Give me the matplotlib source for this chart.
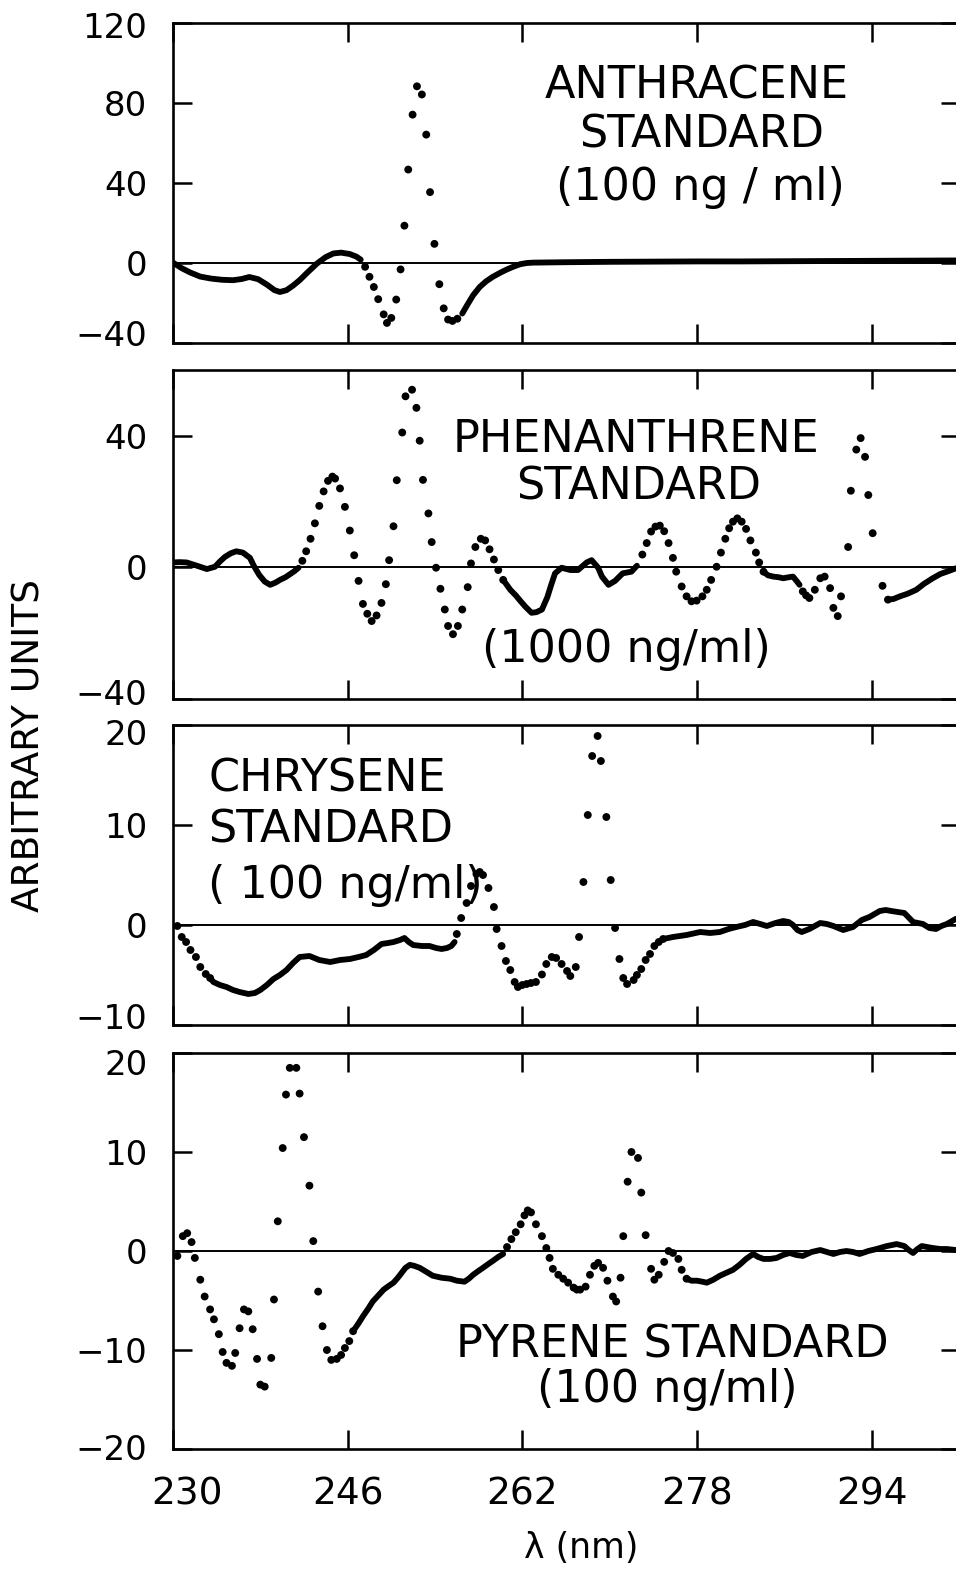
import numpy as np
import matplotlib.pyplot as plt
import matplotlib.transforms as mtransforms

plt.rcParams['font.family'] = ['DejaVu Sans']

# ---- anthracene (100 ng/ml) ----
anth_line1_x = [230.0, 230.8, 231.6, 232.5, 233.5, 234.5, 235.5, 236.3, 237.0, 237.8, 238.6, 239.3,
                239.8, 240.4, 241.0, 241.6, 242.4, 243.2, 244.0, 244.7, 245.4, 246.2, 246.8, 247.2]
anth_line1_y = [0.0, -2.8, -5.0, -7.0, -8.0, -8.6, -8.8, -8.2, -7.2, -8.3, -11.0, -13.8,
                -14.7, -13.8, -11.5, -8.8, -4.5, -0.4, 2.8, 4.6, 5.0, 4.3, 3.0, 1.5]
anth_dots_x = [247.6, 248.0, 248.4, 248.8, 249.3, 249.6, 250.0, 250.45, 250.85, 251.2, 251.55,
               251.95, 252.35, 252.8, 253.2, 253.55, 253.95, 254.4, 254.8, 255.2, 255.6, 256.05]
anth_dots_y = [-2.1, -7.1, -12.2, -18.3, -25.9, -30.2, -27.7, -18.5, -3.4, 18.5, 46.6,
               74.1, 88.3, 84.2, 64.1, 35.3, 9.4, -10.8, -22.9, -28.5, -29.2, -28.1]
anth_line2_x = [256.5, 257.0, 257.5, 258.1, 258.7, 259.3, 260.0, 260.6, 261.2, 261.8, 262.4, 263.0,
                266.0, 270.0, 274.0, 278.0, 282.0, 286.0, 290.0, 294.0, 298.0, 302.1]
anth_line2_y = [-25.5, -20.8, -16.3, -12.2, -9.3, -7.1, -5.0, -3.4, -2.0, -0.8, -0.2, 0.0,
                0.2, 0.4, 0.5, 0.6, 0.6, 0.7, 0.8, 0.9, 1.0, 1.1]

# ---- phenanthrene (1000 ng/ml) ----
phen_line1_x = [230.0, 230.6, 231.25, 232.2, 233.1, 233.85, 234.3, 234.76, 235.3, 235.8, 236.4, 237.05,
                237.4, 237.9, 238.4, 238.9, 239.4, 239.8, 240.3, 240.7, 241.1, 241.5]
phen_line1_y = [1.5, 1.6, 1.5, 0.5, -0.5, 0.2, 1.8, 3.2, 4.3, 4.9, 4.5, 2.9,
                0.5, -2.3, -4.3, -5.3, -4.6, -3.8, -3.0, -2.1, -1.2, -0.1]
phen_dots1_x = [241.85, 242.2, 242.6, 243.0, 243.4, 243.8, 244.2, 244.6, 244.85, 245.3, 245.75, 246.2,
                246.6, 247.0, 247.4, 247.8, 248.2, 248.65, 249.1, 249.5, 249.8, 250.2, 250.5, 251.0,
                251.3, 251.9, 252.3, 252.6, 252.9, 253.4, 253.7, 254.1, 254.5, 254.9, 255.2, 255.65,
                256.1, 256.5, 257.0, 257.3, 257.7, 258.2, 258.6, 259.0, 259.4, 259.8, 260.25]
phen_dots1_y = [2.0, 4.9, 8.7, 13.4, 18.7, 23.1, 26.3, 27.6, 27.0, 24.0, 18.4, 11.2,
                3.7, -4.1, -11.1, -14.1, -16.3, -14.6, -10.8, -5.1, 2.2, 12.5, 26.5, 41.0,
                52.0, 54.0, 48.5, 38.5, 26.6, 16.4, 7.7, -0.1, -6.5, -12.8, -17.8, -20.3,
                -17.8, -12.8, -6.0, 1.2, 6.2, 8.7, 8.2, 5.5, 2.4, -0.8, -3.8]
phen_line2_x = [260.25, 260.9, 261.4, 261.8, 262.3, 262.85, 263.3, 263.8, 264.3, 264.6, 265.0, 265.6,
                266.4, 267.1, 267.9, 268.35, 268.95, 269.3, 269.9, 270.5, 271.2, 272.0, 272.5]
phen_line2_y = [-3.8, -6.8, -8.5, -10.1, -12.0, -13.8, -13.6, -12.8, -9.0, -5.8, -1.8, -0.1,
                -0.8, -0.8, 1.5, 2.2, -0.1, -2.8, -5.3, -4.1, -1.8, -1.3, 0.5]
phen_dots2_x = [273.0, 273.4, 273.8, 274.2, 274.6, 275.0, 275.4, 275.8, 276.1, 276.6, 277.05, 277.5,
                277.97, 278.5, 278.9, 279.3, 279.8, 280.2, 280.6, 280.95, 281.3, 281.7, 282.1, 282.5,
                282.9, 283.4, 283.7, 284.1]
phen_dots2_y = [3.9, 7.4, 10.9, 12.4, 12.7, 11.0, 7.4, 2.9, -1.3, -5.8, -8.8, -10.3,
                -10.1, -8.8, -6.8, -3.8, 0.2, 4.5, 8.7, 11.9, 13.9, 14.9, 13.9, 11.7,
                8.2, 4.5, 1.5, -1.3]
phen_line3_x = [284.1, 284.5, 285.0, 285.5, 285.9, 286.4, 286.8, 287.1, 287.4]
phen_line3_y = [-1.3, -2.4, -2.8, -3.0, -3.3, -3.0, -2.8, -4.0, -5.3]
phen_dots3_x = [287.7, 288.0, 288.3, 288.8, 289.3, 289.7, 290.2, 290.5, 290.9, 291.2, 291.85, 292.1,
                292.6, 293.0, 293.4, 293.7, 294.1, 295.0, 295.5]
phen_dots3_y = [-7.3, -8.5, -9.3, -6.8, -3.3, -2.8, -6.3, -12.3, -14.8, -8.8, 6.2, 23.3,
                35.8, 39.3, 33.6, 22.0, 10.4, -5.6, -9.8]
phen_line4_x = [295.5, 296.0, 296.6, 297.3, 298.1, 298.8, 299.6, 300.3, 300.9, 301.7, 302.1]
phen_line4_y = [-9.8, -9.6, -8.8, -8.0, -6.8, -5.0, -3.3, -2.0, -1.3, -0.3, -0.2]

# ---- chrysene (100 ng/ml) ----
chry_dots1_x = [230.4, 230.8, 231.2, 231.6, 232.1, 232.5, 233.0, 233.4]
chry_dots1_y = [-0.1, -1.2, -1.7, -2.5, -3.2, -4.2, -4.9, -5.3]
chry_line1_x = [233.4, 233.7, 234.3, 234.9, 235.5, 236.1, 236.9, 237.5, 238.0, 238.6, 239.2, 239.8,
                240.4, 241.0, 241.6, 242.5, 243.4, 244.4, 245.3, 246.2, 247.0, 247.7, 248.4, 249.1,
                249.7, 250.2, 250.8, 251.2, 251.6, 252.0, 252.8, 253.5, 254.1, 254.6, 255.1, 255.5, 255.8]
chry_line1_y = [-5.3, -5.7, -6.0, -6.2, -6.5, -6.7, -6.9, -6.8, -6.5, -6.0, -5.4, -5.0,
                -4.5, -3.8, -3.2, -3.1, -3.5, -3.7, -3.5, -3.4, -3.2, -3.0, -2.5, -1.9,
                -1.8, -1.7, -1.5, -1.3, -1.7, -2.0, -2.1, -2.1, -2.3, -2.4, -2.3, -2.1, -1.7]
chry_dots2_x = [256.0, 256.4, 256.9, 257.3, 257.8, 258.1, 258.4, 258.9, 259.4, 259.65, 260.1, 260.5,
                260.9, 261.3, 261.6, 262.0, 262.4, 262.8, 263.25, 263.8, 264.2, 264.7, 265.1, 265.6,
                266.1, 266.4, 266.9, 267.2, 267.6, 268.0, 268.4, 268.9, 269.2, 269.7, 270.1, 270.5,
                270.9, 271.25, 271.6, 272.2, 272.5, 272.9, 273.3, 273.7, 274.1, 274.5, 274.9]
chry_dots2_y = [-0.9, 0.7, 2.2, 3.9, 5.1, 5.3, 5.0, 3.7, 1.8, -0.4, -2.1, -3.6,
                -4.5, -5.7, -6.2, -6.0, -5.9, -5.8, -5.7, -4.95, -3.9, -3.2, -3.3, -3.9,
                -4.6, -5.1, -4.2, -1.2, 4.3, 11.0, 16.9, 18.9, 16.4, 10.8, 4.5, -0.3,
                -3.4, -5.3, -5.9, -5.5, -5.0, -4.4, -3.5, -2.9, -2.1, -1.7, -1.4]
chry_line2_x = [274.9, 275.8, 277.05, 278.3, 279.2, 280.1, 280.9, 281.6, 282.4, 283.15, 283.8, 284.4,
                285.2, 285.9, 286.4, 286.8, 287.2, 287.6, 288.3, 289.3, 289.9, 290.5, 291.4, 292.3,
                293.1, 293.8, 294.75, 295.3, 295.8, 296.4, 297.0, 297.8, 298.7, 299.3, 299.9, 300.4,
                300.9, 301.7, 302.1]
chry_line2_y = [-1.4, -1.2, -1.0, -0.7, -0.8, -0.7, -0.4, -0.2, 0.0, 0.3, 0.1, -0.1,
                0.2, 0.4, 0.3, 0.0, -0.5, -0.7, -0.4, 0.2, 0.1, -0.1, -0.5, -0.2,
                0.5, 0.8, 1.4, 1.5, 1.4, 1.3, 1.2, 0.3, 0.1, -0.3, -0.4, -0.1,
                0.1, 0.6, 0.7]

# ---- pyrene (100 ng/ml) ----
pyr_dots1_x = [230.4, 230.9, 231.3, 231.7, 232.0, 232.5, 232.9, 233.4, 233.75, 234.2, 234.55, 234.9,
               235.4, 235.7, 236.1, 236.5, 236.9, 237.3, 237.7, 238.0, 238.4, 239.0, 239.25, 239.6,
               240.05, 240.35, 240.7, 241.3, 241.6, 242.0, 242.5, 242.85, 243.3, 243.7, 244.1, 244.5,
               245.0, 245.4, 245.75, 246.15, 246.5]
pyr_dots1_y = [-0.5, 1.5, 1.8, 0.9, -0.7, -2.9, -4.6, -5.9, -6.9, -8.4, -10.2, -11.3,
               -11.6, -10.3, -7.8, -5.9, -6.1, -7.9, -10.9, -13.5, -13.7, -10.8, -4.9, 3.0,
               10.4, 15.8, 18.5, 18.5, 15.9, 11.5, 6.6, 1.0, -4.1, -7.6, -10.0, -11.0,
               -10.9, -10.5, -9.8, -9.1, -8.1]
pyr_line1_x = [246.5, 247.0, 247.4, 247.9, 248.3, 248.8, 249.3, 249.8, 250.2, 250.6, 250.95, 251.3,
               251.7, 252.1, 252.6, 253.2, 253.8, 254.6, 255.4, 256.0, 256.7, 257.1, 257.5, 258.0,
               258.4, 258.9, 259.3, 259.8, 260.25]
pyr_line1_y = [-8.1, -7.3, -6.6, -5.8, -5.1, -4.5, -3.9, -3.5, -3.2, -2.7, -2.2, -1.7,
               -1.4, -1.5, -1.7, -2.1, -2.5, -2.7, -2.8, -3.0, -3.1, -2.8, -2.4, -2.0,
               -1.7, -1.3, -1.0, -0.6, -0.3]
pyr_dots2_x = [260.6, 261.0, 261.4, 261.85, 262.2, 262.5, 262.8, 263.25, 263.8, 264.2, 264.5, 264.8,
               265.3, 265.75, 266.2, 266.7, 267.0, 267.3, 267.8, 268.2, 268.6, 268.95, 269.4, 269.8,
               270.3, 270.6, 271.0, 271.25, 271.65, 272.0, 272.6, 272.9, 273.3, 273.8, 274.1, 274.5,
               275.0, 275.4, 275.8, 276.3, 276.6, 277.05]
pyr_dots2_y = [0.4, 1.2, 1.9, 2.7, 3.6, 4.1, 3.9, 2.7, 1.5, 0.3, -0.7, -1.8,
               -2.4, -2.8, -3.2, -3.7, -3.9, -3.9, -3.6, -2.4, -1.5, -1.2, -1.7, -3.0,
               -4.6, -5.1, -2.7, 1.5, 7.0, 10.0, 9.4, 5.9, 1.6, -1.8, -2.9, -2.4,
               -1.1, 0.0, -0.2, -0.8, -1.9, -2.8]
pyr_line2_x = [277.05, 277.5, 278.0, 278.5, 278.9, 279.5, 280.1, 280.7, 281.3, 281.9, 282.5, 283.15,
               283.6, 284.1, 284.7, 285.3, 285.9, 286.5, 287.1, 287.7, 288.5, 289.3, 289.9, 290.5,
               291.1, 291.7, 292.3, 292.9, 293.7, 294.45, 295.4, 296.3, 297.0, 297.4, 297.8, 298.2,
               298.6, 299.1, 299.6, 300.3, 300.9, 301.7, 302.1]
pyr_line2_y = [-2.8, -3.0, -3.0, -3.1, -3.2, -2.9, -2.5, -2.2, -1.9, -1.4, -0.8, -0.3,
               -0.6, -0.8, -0.8, -0.7, -0.4, -0.2, -0.4, -0.5, -0.1, 0.1, -0.1, -0.3,
               -0.1, 0.0, -0.1, -0.3, 0.0, 0.2, 0.5, 0.7, 0.5, 0.1, -0.2, 0.2,
               0.5, 0.4, 0.3, 0.2, 0.2, 0.1, 0.1]

x_ticks = [230, 246, 262, 278, 294]
x_range = (230, 302.1)

fig = plt.figure(figsize=(9.56, 15.70), dpi=100)
W, H = 956.0, 1570.0


def shift(label, dx_px, dy_px):
    # nudge a tick label by a few pixels (positive dy = up)
    off = mtransforms.ScaledTranslation(dx_px / 100.0, dy_px / 100.0, fig.dpi_scale_trans)
    label.set_transform(label.get_transform() + off)


def make_axes(top_px, bottom_px, ylim, yticks, nudge=None, show_xlabels=False):
    # axes placed by pixel box; right spine sits just past the picture edge
    left_px, right_px = 173.0, 960.0
    ax = fig.add_axes([left_px / W, 1 - bottom_px / H, (right_px - left_px) / W, (bottom_px - top_px) / H])
    ax.set_xlim(*x_range)
    ax.set_ylim(*ylim)
    ax.set_xticks(x_ticks)
    ax.set_yticks(yticks)
    ax.tick_params(axis='both', direction='in', length=14, width=1.8, top=True, right=True)
    ax.tick_params(axis='y', pad=18.5, labelsize=24.5)
    ax.tick_params(axis='x', pad=19.5, labelsize=27, labelbottom=show_xlabels)
    for sp in ax.spines.values():
        sp.set_linewidth(1.9)
    ax.axhline(0, color='black', lw=1.4, zorder=1)
    if nudge:
        labels = ax.get_yticklabels()
        for idx, dy in nudge.items():
            shift(labels[idx], 0, dy)
    return ax


def draw_line(ax, xs, ys):
    ax.plot(xs, ys, color='black', lw=4.2, solid_capstyle='round', solid_joinstyle='round', zorder=3)


def draw_dots(ax, xs, ys):
    ax.scatter(xs, ys, s=32, color='black', edgecolors='none', zorder=3)


# panel 1 - anthracene
ax1 = make_axes(23, 342.5, (-40, 120), [-40, 0, 40, 80, 120], nudge={0: 9, 4: -2})
draw_line(ax1, anth_line1_x, anth_line1_y)
draw_dots(ax1, anth_dots_x, anth_dots_y)
draw_line(ax1, anth_line2_x, anth_line2_y)
ax1.text(0.666, 0.765, 'ANTHRACENE', transform=ax1.transAxes, ha='center', va='baseline', fontsize=32)
ax1.text(0.672, 0.609, 'STANDARD', transform=ax1.transAxes, ha='center', va='baseline', fontsize=32)
ax1.text(0.670, 0.446, '(100 ng / ml)', transform=ax1.transAxes, ha='center', va='baseline', fontsize=32)

# panel 2 - phenanthrene
ax2 = make_axes(370, 699, (-40, 60), [-40, 0, 40], nudge={0: 7})
draw_line(ax2, phen_line1_x, phen_line1_y)
draw_dots(ax2, phen_dots1_x, phen_dots1_y)
draw_line(ax2, phen_line2_x, phen_line2_y)
draw_dots(ax2, phen_dots2_x, phen_dots2_y)
draw_line(ax2, phen_line3_x, phen_line3_y)
draw_dots(ax2, phen_dots3_x, phen_dots3_y)
draw_line(ax2, phen_line4_x, phen_line4_y)
ax2.text(0.588, 0.751, 'PHENANTHRENE', transform=ax2.transAxes, ha='center', va='baseline', fontsize=32)
ax2.text(0.592, 0.605, 'STANDARD', transform=ax2.transAxes, ha='center', va='baseline', fontsize=32)
ax2.text(0.576, 0.112, '(1000 ng/ml)', transform=ax2.transAxes, ha='center', va='baseline', fontsize=32)

# panel 3 - chrysene
ax3 = make_axes(725, 1025, (-10, 20), [-10, 0, 10, 20], nudge={0: 9, 3: -7})
draw_dots(ax3, chry_dots1_x, chry_dots1_y)
draw_line(ax3, chry_line1_x, chry_line1_y)
draw_dots(ax3, chry_dots2_x, chry_dots2_y)
draw_line(ax3, chry_line2_x, chry_line2_y)
ax3.text(0.045, 0.777, 'CHRYSENE', transform=ax3.transAxes, ha='left', va='baseline', fontsize=32)
ax3.text(0.045, 0.607, 'STANDARD', transform=ax3.transAxes, ha='left', va='baseline', fontsize=32)
ax3.text(0.045, 0.423, '( 100 ng/ml)', transform=ax3.transAxes, ha='left', va='baseline', fontsize=32)

# panel 4 - pyrene
ax4 = make_axes(1053, 1449, (-20, 20), [-20, -10, 0, 10, 20], nudge={0: 2, 4: -9}, show_xlabels=True)
draw_dots(ax4, pyr_dots1_x, pyr_dots1_y)
draw_line(ax4, pyr_line1_x, pyr_line1_y)
draw_dots(ax4, pyr_dots2_x, pyr_dots2_y)
draw_line(ax4, pyr_line2_x, pyr_line2_y)
ax4.text(0.635, 0.230, 'PYRENE STANDARD', transform=ax4.transAxes, ha='center', va='baseline', fontsize=32)
ax4.text(0.628, 0.119, '(100 ng/ml)', transform=ax4.transAxes, ha='center', va='baseline', fontsize=32)
# the 230 label sits a little right of the corner
shift(ax4.get_xticklabels()[0], 14, 0)

fig.text(30 / W, 1 - 746 / H, 'ARBITRARY UNITS', rotation=90, ha='center', va='center', fontsize=27)
fig.text(581 / W, 1 - 1548 / H, 'λ (nm)', ha='center', va='center', fontsize=25)

fig.savefig('out.png', dpi=100)
